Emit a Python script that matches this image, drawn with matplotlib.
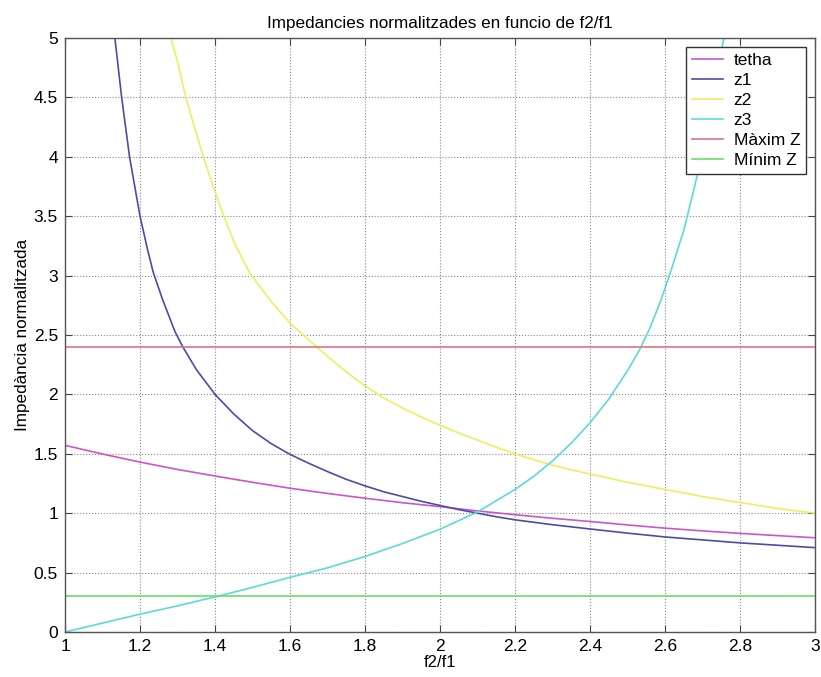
import matplotlib
matplotlib.use('Agg')
import matplotlib.pyplot as plt

plt.rcParams['font.family'] = ['Liberation Sans', 'DejaVu Sans']

# values
x_tetha = [1.0, 1.1, 1.2, 1.3, 1.4, 1.5, 1.6, 1.7, 1.8, 1.9, 2.0,
           2.1, 2.2, 2.3, 2.4, 2.5, 2.6, 2.7, 2.8, 2.9, 3.0]
tetha = [1.571, 1.498, 1.430, 1.368, 1.313, 1.260, 1.210, 1.166, 1.126, 1.088, 1.055,
         1.019, 0.987, 0.957, 0.930, 0.901, 0.874, 0.851, 0.830, 0.811, 0.793]

x_z1 = [1.12, 1.133, 1.151, 1.172, 1.20, 1.22, 1.235, 1.26, 1.293, 1.314, 1.35,
        1.40, 1.45, 1.5, 1.55, 1.6, 1.65, 1.7, 1.75, 1.8, 1.85, 1.9, 1.95,
        2.0, 2.05, 2.1, 2.15, 2.2, 2.3, 2.4, 2.5, 2.6, 2.7, 2.8, 2.9, 3.0]
z1 = [5.49, 5.0, 4.5, 4.0, 3.5, 3.22, 3.03, 2.80, 2.53, 2.40, 2.21,
      2.0, 1.835, 1.695, 1.585, 1.495, 1.42, 1.35, 1.285, 1.23, 1.18, 1.14, 1.10,
      1.065, 1.03, 1.0, 0.97, 0.944, 0.903, 0.867, 0.832, 0.80, 0.775, 0.75, 0.73, 0.71]

x_z2 = [1.25, 1.282, 1.30, 1.322, 1.345, 1.369, 1.395, 1.421, 1.455, 1.493, 1.55,
        1.6, 1.635, 1.671, 1.7, 1.75, 1.8, 1.85, 1.9, 1.95, 2.0, 2.05, 2.1,
        2.15, 2.2, 2.25, 2.3, 2.35, 2.4, 2.45, 2.5, 2.55, 2.6, 2.65, 2.7,
        2.75, 2.8, 2.85, 2.9, 2.95, 3.0]
z2 = [5.6, 5.0, 4.8, 4.5, 4.25, 4.0, 3.75, 3.52, 3.25, 3.02, 2.78,
      2.6, 2.5, 2.4, 2.32, 2.19, 2.07, 1.97, 1.885, 1.81, 1.74, 1.675, 1.615,
      1.555, 1.50, 1.45, 1.405, 1.365, 1.33, 1.295, 1.26, 1.23, 1.20, 1.17, 1.14,
      1.115, 1.09, 1.065, 1.04, 1.02, 1.00]

x_z3 = [1.0, 1.1, 1.2, 1.3, 1.4, 1.5, 1.6, 1.7, 1.8, 1.9, 2.0,
        2.1, 2.2, 2.25, 2.3, 2.35, 2.4, 2.45, 2.5, 2.533, 2.56, 2.59,
        2.62, 2.65, 2.675, 2.7, 2.72, 2.74, 2.757, 2.78]
z3 = [0.0, 0.075, 0.15, 0.22, 0.295, 0.375, 0.46, 0.54, 0.635, 0.745, 0.865,
      1.01, 1.2, 1.31, 1.44, 1.59, 1.76, 1.96, 2.2, 2.38, 2.56, 2.8,
      3.08, 3.38, 3.7, 4.03, 4.35, 4.7, 5.0, 5.5]

x_lim = [1.0, 3.0]
max_z = [2.4, 2.4]
min_z = [0.3, 0.3]

labels = ['tetha', 'z1', 'z2', 'z3', 'Màxim Z', 'Mínim Z']
colors = ['#cc55cc', '#4c4ca8', '#eeee60', '#5cdada', '#e07282', '#6cdc6c']

fig = plt.figure(figsize=(8.21, 6.77), dpi=100)
ax = fig.add_axes([0.0792, 0.0665, 0.9135, 0.8774])

ax.plot(x_tetha, tetha, color=colors[0], lw=1.2, label=labels[0])
ax.plot(x_z1, z1, color=colors[1], lw=1.2, label=labels[1])
ax.plot(x_z2, z2, color=colors[2], lw=1.2, label=labels[2])
ax.plot(x_z3, z3, color=colors[3], lw=1.2, label=labels[3])
ax.plot(x_lim, max_z, color=colors[4], lw=1.2, label=labels[4])
ax.plot(x_lim, min_z, color=colors[5], lw=1.2, label=labels[5])

ax.set_xlim(1, 3)
ax.set_ylim(0, 5)
ax.set_xticks([1, 1.2, 1.4, 1.6, 1.8, 2, 2.2, 2.4, 2.6, 2.8, 3])
ax.set_xticklabels(['1', '1.2', '1.4', '1.6', '1.8', '2', '2.2', '2.4', '2.6', '2.8', '3'])
ax.set_yticks([0, 0.5, 1, 1.5, 2, 2.5, 3, 3.5, 4, 4.5, 5])
ax.set_yticklabels(['0', '0.5', '1', '1.5', '2', '2.5', '3', '3.5', '4', '4.5', '5'])
ax.tick_params(direction='in', top=True, right=True, labelsize=12.5, length=5,
               color='#444444', pad=5)
ax.grid(True, linestyle=':', color='#888888', linewidth=0.8)
for s in ax.spines.values():
    s.set_color('#555555')
    s.set_linewidth(1.0)

ax.set_title('Impedancies normalitzades en funcio de f2/f1', fontsize=12.3, pad=7)
ax.set_xlabel('f2/f1', fontsize=12, labelpad=1)
ax.set_ylabel('Impedància normalitzada', fontsize=12.3, labelpad=3)

leg = ax.legend(loc='upper right', fontsize=12.5, fancybox=False, framealpha=1,
                edgecolor='#333333', handlelength=1.8, labelspacing=0.28,
                borderaxespad=0.5, handletextpad=0.6, borderpad=0.35)
leg.get_frame().set_linewidth(1.0)

fig.savefig('out.png', dpi=100)
